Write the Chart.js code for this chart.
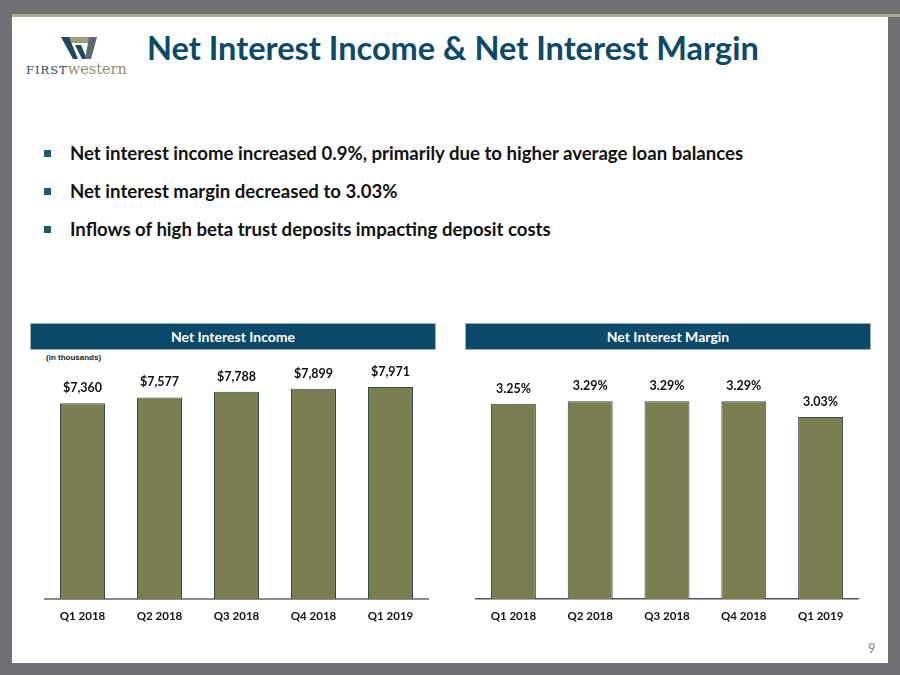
<!DOCTYPE html>
<html>
<head>
<meta charset="utf-8">
<script src="https://cdn.jsdelivr.net/npm/chart.js@4"></script>
<style>
  html, body { margin: 0; padding: 0; }
  body { width: 900px; height: 675px; background: #706f74; position: relative; overflow: hidden; font-family: Lato, "Open Sans", sans-serif; }
  #page { position: absolute; left: 12px; top: 14px; width: 876px; height: 649px; background: #fff; }
  #rule { position: absolute; left: 12px; top: 14px; width: 888px; height: 3px; background: #a8ad8a; }
  #title { position: absolute; left: 147px; top: 28px; font-size: 32.5px; font-weight: 700; color: #0d4a6a; white-space: nowrap; }
  .bullet { position: absolute; left: 70px; font-size: 18.6px; font-weight: 700; color: #111; white-space: nowrap; }
  .bullet::before { content: ""; position: absolute; left: -26px; top: 8px; width: 7px; height: 7px; background: #1f5a73; }
  .hdr { position: absolute; top: 323px; height: 27px; width: 406px; background: #0b4a6b; border: 1px solid #9fb0b5; box-sizing: border-box; color: #fff; font-size: 14px; font-weight: 700; text-align: center; line-height: 25px; }
  #units { position: absolute; left: 46px; top: 353px; font-family: "Liberation Sans", Arial, sans-serif; font-size: 8px; font-weight: 700; color: #222; }
  #pgno { position: absolute; left: 868px; top: 640px; font-size: 13px; color: #888; }
  .chartbox { position: absolute; top: 355px; height: 275px; }
  #logo { position: absolute; left: 25px; top: 33px; }
  #logotext { position: absolute; left: 26px; top: 61px; font-family: "DejaVu Serif", "Liberation Serif", serif; font-size: 14.5px; white-space: nowrap; }
</style>
</head>
<body>
<div id="page"></div>
<div id="rule"></div>

<svg id="logo" width="110" height="30" viewBox="0 0 110 30">
  <polygon points="36,4 72,4 68,10 44,10" fill="#9a9f7a"/>
  <polygon points="36,4 44,4 53,26 48,26" fill="#1f4a5c"/>
  <polygon points="50,12 56,12 62,26 57,26" fill="#1f4a5c"/>
  <polygon points="64,4 72,4 66,26 60,26" fill="#5d6b73"/>
</svg>
<div id="logotext"><span style="color:#1f4a5c;letter-spacing:1px;font-size:11.5px">FIRST</span><span style="color:#8f936c">western</span></div>

<div id="title">Net Interest Income &amp; Net Interest Margin</div>

<div class="bullet" style="top:142px">Net interest income increased 0.9%, primarily due to higher average loan balances</div>
<div class="bullet" style="top:180px">Net interest margin decreased to 3.03%</div>
<div class="bullet" style="top:218px">Inflows of high beta trust deposits impacting deposit costs</div>

<div class="hdr" style="left:30px">Net Interest Income</div>
<div class="hdr" style="left:465px">Net Interest Margin</div>
<div id="units">(in thousands)</div>

<div class="chartbox" style="left:44px;width:385px"><canvas id="nii"></canvas></div>
<div class="chartbox" style="left:475px;width:384px"><canvas id="nim"></canvas></div>

<div id="pgno">9</div>

<script>
// QUARTERS SHOWN ON BOTH CHARTS
const quarters = ["Q1 2018", "Q2 2018", "Q3 2018", "Q4 2018", "Q1 2019"];

// NET INTEREST INCOME ($ thousands)
const incomeValues = [7360, 7577, 7788, 7899, 7971];
const incomeLabels = ["$7,360", "$7,577", "$7,788", "$7,899", "$7,971"];

// NET INTEREST MARGIN (%)
const marginValues = [3.25, 3.29, 3.29, 3.29, 3.03];
const marginLabels = ["3.25%", "3.29%", "3.29%", "3.29%", "3.03%"];

const barColor = "#7a7e50";
const barEdge = "#34494a";
const textFont = "Lato, 'Open Sans', sans-serif";

// Draws the value text above each bar
const valueLabels = {
    id: "valueLabels",
    afterDatasetsDraw(chart, args, opts) {
        const ctx = chart.ctx;
        const meta = chart.getDatasetMeta(0);
        ctx.save();
        ctx.fillStyle = "#111";
        ctx.font = "700 12.5px " + textFont;
        ctx.textAlign = "center";
        ctx.textBaseline = "middle";
        meta.data.forEach((bar, i) => {
            ctx.fillText(opts.labels[i], bar.x, bar.y - 15);
        });
        ctx.restore();
    }
};

function makeChart(id, values, labels, yMax, axisColor, axisWidth) {
    return new Chart(document.getElementById(id), {
        type: "bar",
        data: {
            labels: quarters,
            datasets: [{
                data: values,
                backgroundColor: barColor,
                borderColor: barEdge,
                borderWidth: 1,
                categoryPercentage: 1,
                barPercentage: 0.585
            }]
        },
        options: {
            responsive: true,
            maintainAspectRatio: false,
            animation: false,
            layout: { padding: 0 },
            plugins: {
                legend: { display: false },
                tooltip: { enabled: false },
                valueLabels: { labels: labels }
            },
            scales: {
                y: {
                    display: false,
                    min: 0,
                    max: yMax
                },
                x: {
                    grid: { display: false },
                    border: { color: axisColor, width: axisWidth },
                    ticks: {
                        color: "#111",
                        padding: 2,
                        font: { family: textFont, size: 11.5, weight: "700" }
                    },
                    afterFit(scale) {
                        scale.height = 31;
                    }
                }
            }
        },
        plugins: [valueLabels]
    });
}

// START CHARTS
makeChart("nii", incomeValues, incomeLabels, 9170, "#8c8c8c", 2);
makeChart("nim", marginValues, marginLabels, 4.06, "#555", 1.5);
</script>
</body>
</html>
